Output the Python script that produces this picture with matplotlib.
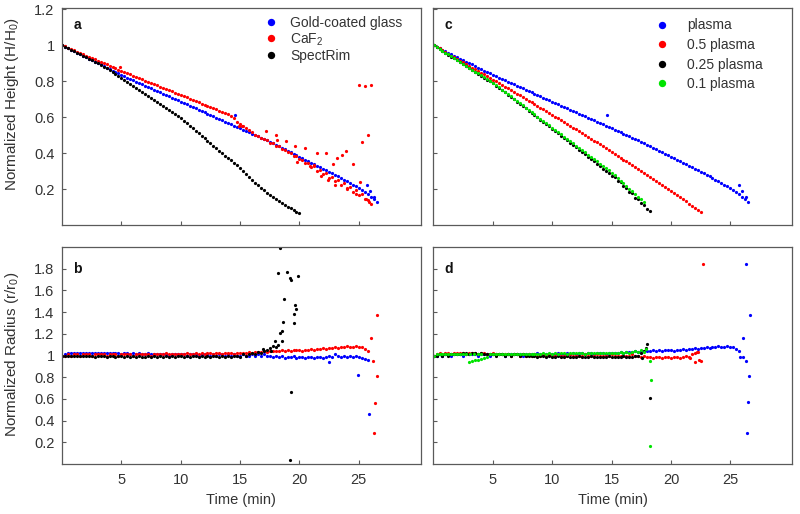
import numpy as np
import matplotlib
matplotlib.use("Agg")
import matplotlib.pyplot as plt
from matplotlib.ticker import FuncFormatter

plt.rcParams['font.family'] = ['Liberation Sans', 'DejaVu Sans']
plt.rcParams['mathtext.default'] = 'regular'

# ---------------- data (sampling interval in minutes) ----------------
DT = 0.25

# Normalized height, panel a / c
h_plasma = [1.000,0.992,0.983,0.975,0.967,0.958,0.950,0.942,0.933,0.925,0.917,0.908,0.900,0.892,0.883,0.875,0.867,0.858,0.850,0.842,0.833,
            0.826,0.818,0.811,0.804,0.796,0.789,0.781,0.774,0.767,0.759,0.752,0.744,0.737,0.729,0.722,0.715,0.707,0.700,0.692,0.685,
            0.678,0.670,0.663,0.656,0.648,0.641,0.633,0.626,0.618,0.611,0.604,0.596,0.589,0.581,0.574,0.567,0.559,0.552,0.544,0.537,
            0.530,0.522,0.515,0.507,0.500,0.492,0.485,0.477,0.470,0.462,
            0.454,0.446,0.437,0.429,0.421,0.413,0.405,0.396,0.388,0.380,
            0.372,0.363,0.355,0.347,0.338,0.330,0.322,0.313,0.305,0.297,0.288,0.280,
            0.271,0.261,0.252,0.242,0.233,0.224,0.214,0.205,0.195,
            0.183,0.170,0.158,0.145,0.130]
h_plasma_extra_t = [14.6, 25.7, 25.95, 26.3]
h_plasma_extra_v = [0.61, 0.225, 0.19, 0.155]

h_caf2 = [1.000,0.993,0.985,0.978,0.970,0.963,0.956,0.949,0.942,0.935,0.928,0.921,0.914,0.907,0.900,0.893,0.886,0.879,0.872,0.864,0.857,
          0.850,0.844,0.837,0.830,0.823,0.817,0.810,0.803,0.796,0.790,0.783,0.776,0.769,0.763,0.756,0.749,0.742,0.736,0.729,0.722,
          0.715,0.709,0.702,0.695,0.688,0.682,0.675,0.668,0.662,0.655,0.648,0.642,0.635,0.628,0.622,0.615,
          0.605,0.592,0.575,0.562,0.552,0.540,0.528,0.515,0.502,0.492,0.484,0.476,
          0.472,0.455,0.455,0.438,0.437,0.421,0.419,0.403,0.401,0.384,0.382,0.365,
          0.362,0.343,0.345,0.322,0.326,0.302,0.306,0.283,0.287,0.262,0.268,0.244,
          0.250,0.225,0.232,0.205,0.212,0.186,0.193,0.166,0.172,0.146,0.140,0.118]
h_caf2_extra_t = [4.9, 14.9, 15.2, 17.2, 18.0, 18.15, 18.85, 19.6, 19.8, 20.5, 20.9, 21.2, 21.5, 22.2, 22.8, 23.2,
                  23.6, 23.9, 24.5, 25.1, 25.0, 25.5, 26.0, 25.8, 25.3, 21.8, 22.4, 23.0, 24.0, 24.8, 25.6, 25.9]
h_caf2_extra_v = [0.876, 0.55, 0.55, 0.52, 0.50, 0.472, 0.467, 0.44, 0.35, 0.43, 0.33, 0.335, 0.40, 0.40, 0.34, 0.37,
                  0.39, 0.41, 0.34, 0.24, 0.78, 0.77, 0.78, 0.50, 0.46, 0.27, 0.25, 0.22, 0.20, 0.17, 0.145, 0.127]

h_spectrim = [1.000,0.992,0.983,0.975,0.967,0.958,0.950,0.942,0.933,0.925,0.917,0.908,0.898,0.889,0.880,0.871,0.862,0.851,0.840,0.829,0.818,
              0.807,0.796,0.784,0.773,0.761,0.750,0.739,0.727,0.716,0.704,0.693,0.682,0.671,0.660,0.649,0.637,0.626,0.615,0.604,0.593,
              0.579,0.565,0.551,0.537,0.523,0.509,0.496,0.482,0.468,0.454,0.440,0.427,0.413,0.400,0.386,0.372,0.359,0.345,0.332,0.318,
              0.301,0.284,0.267,0.250,0.236,0.222,0.207,0.193,0.179,0.167,0.156,0.145,0.134,0.122,0.111,0.100,0.092,0.083,0.074,0.065]

h_half = [1.000,0.990,0.981,0.971,0.962,0.952,0.942,0.933,0.923,0.913,0.904,0.894,0.885,0.875,0.865,0.856,0.846,0.837,0.827,0.817,0.808,
          0.798,0.788,0.779,0.769,0.759,0.750,0.740,0.730,0.720,0.711,0.701,0.691,0.682,0.672,0.662,0.653,0.643,0.633,0.623,0.614,
          0.603,0.593,0.583,0.572,0.562,0.552,0.541,0.531,0.521,0.510,0.500,0.490,0.479,0.469,0.459,0.448,0.438,0.428,0.417,0.407,
          0.396,0.386,0.375,0.364,0.354,0.343,0.332,0.321,0.311,0.300,0.289,0.278,0.267,0.256,0.245,0.234,0.224,0.213,0.202,0.191,
          0.179,0.167,0.155,0.143,0.131,0.119,0.107,0.096,0.084,0.074]

h_quarter = [1.000,0.989,0.979,0.968,0.958,0.947,0.936,0.926,0.915,0.904,0.894,0.883,0.872,0.862,0.851,0.840,0.830,0.819,0.808,0.798,0.787,
             0.774,0.762,0.749,0.737,0.724,0.712,0.699,0.686,0.674,0.661,0.649,0.636,0.623,0.611,0.598,0.586,0.573,0.560,0.548,0.535,
             0.522,0.509,0.496,0.483,0.470,0.457,0.444,0.431,0.418,0.405,0.392,0.379,0.366,0.353,0.340,0.327,0.314,0.301,0.288,0.275,
             0.268,0.244,0.238,0.214,0.206,0.183,0.176,0.152,0.144,0.121,0.113,0.090,0.079]

h_tenth = [1.000,0.990,0.979,0.969,0.958,0.948,0.937,0.927,0.916,0.906,0.895,0.885,0.874,0.864,0.853,0.843,0.832,0.822,0.811,0.801,0.790,
           0.778,0.765,0.753,0.740,0.728,0.715,0.703,0.690,0.678,0.665,0.653,0.640,0.628,0.615,0.603,0.590,0.578,0.565,0.553,0.540,
           0.528,0.515,0.503,0.490,0.478,0.465,0.453,0.440,0.428,0.415,0.403,0.390,0.378,0.365,0.353,0.340,0.328,0.315,0.303,0.290,
           0.276,0.261,0.246,0.232,0.217,0.202,0.188,0.173,0.158,0.144,0.129]

# Normalized radius, panel b / d
r_gold = [1.00,1.01,1.02,1.02,1.02,1.02,1.02,1.02,1.02,
          1.02,1.02,1.02,1.02,1.02,1.02,1.02,1.02,
          1.02,1.02,1.02,1.01,1.02,1.02,1.01,1.02,
          1.01,1.02,1.01,1.01,1.02,1.01,1.01,1.01,
          1.01,1.01,1.01,1.00,1.01,1.01,1.01,1.01,
          1.01,1.00,1.01,1.01,1.01,1.00,1.01,1.01,
          1.01,1.00,1.01,1.00,1.01,1.01,1.00,1.01,
          1.00,1.01,1.00,1.00,1.01,1.00,1.00,1.01,
          1.00,1.01,1.00,1.01,1.00,1.00,0.99,1.00,
          0.99,1.00,0.98,0.99,0.99,1.00,0.98,0.99,
          0.99,0.98,0.99,0.99,0.98,0.99,0.99,0.98,
          0.99,1.00,0.99,1.01,1.00,0.99,1.00,0.99,
          1.00,0.99,1.00,0.99,0.98,0.97,0.96]
r_gold_extra_t = [22.45, 24.9, 25.9]
r_gold_extra_v = [0.94, 0.82, 0.46]

# CaF2 radius (panel b) follows the same track as the plasma radius (panel d)
r_caf2 = [1.00,1.00,1.01,1.00,1.01,1.01,1.00,1.01,1.01,1.01,1.00,1.01,1.01,1.01,1.01,1.00,1.01,
          1.01,1.01,1.00,1.01,1.01,1.01,1.01,1.00,1.01,1.01,1.01,1.01,1.01,1.00,1.01,1.01,1.01,1.01,1.02,1.01,1.01,1.01,1.01,1.01,
          1.01,1.02,1.01,1.01,1.02,1.01,1.02,1.01,1.02,1.02,1.01,1.02,1.02,1.01,1.02,1.02,1.02,1.01,1.02,1.02,
          1.02,1.02,1.03,1.02,1.03,1.03,1.03,1.04,1.03,1.04,1.04,
          1.04,1.04,1.05,1.04,1.05,1.04,1.05,1.05,1.05,1.04,1.05,1.05,1.06,1.05,1.06,1.06,1.07,
          1.06,1.07,1.07,1.08,1.07,1.08,1.08,1.09,1.08,1.08,1.09,1.08,
          1.08,1.06,1.04]
r_caf2_extra_t = [26.0, 26.2, 26.5, 26.5, 26.35, 26.3]
r_caf2_extra_v = [1.16, 0.95, 1.37, 0.81, 0.56, 0.29]
r_plasma = r_caf2
r_plasma_extra_t = [26.3, 26.7, 26.1, 26.6, 26.5, 26.4, 25.85, 26.1, 26.3]
r_plasma_extra_v = [1.84, 1.37, 1.16, 0.81, 0.57, 0.29, 0.99, 0.99, 0.95]

r_spectrim = [1.00,1.00,1.00,1.00,1.00,1.00,1.00,1.00,1.00,
              1.00,1.00,0.99,1.00,1.00,1.00,0.99,1.00,
              1.00,0.99,1.00,1.00,0.99,1.00,0.99,1.00,
              0.99,1.00,0.99,0.99,1.00,0.99,1.00,0.99,
              1.00,0.99,1.00,0.99,1.00,0.99,1.00,1.00,
              0.99,1.00,0.99,1.00,1.00,0.99,1.00,0.99,
              1.00,0.99,1.00,1.00,0.99,1.00,0.99,1.00,
              0.99,1.00,1.00,0.99,1.01,1.00,1.01,1.02,
              1.01,1.03,1.02,1.04,1.05,1.07,1.09]
r_spectrim_extra_t = [17.9, 18.0, 18.2, 18.2, 18.4, 18.95, 19.2, 19.25, 19.85, 18.7, 19.6, 19.7, 19.5, 19.5,
                      18.65, 18.4, 18.55, 18.5, 19.3, 19.2, 17.6, 16.9]
r_spectrim_extra_v = [1.13, 1.08, 1.10, 1.76, 1.99, 1.77, 1.71, 1.70, 1.73, 1.52, 1.47, 1.43, 1.38, 1.30,
                      1.31, 1.21, 1.23, 1.13, 0.66, 0.04, 1.04, 1.06]

r_half = [1.00,1.01,1.02,1.01,1.02,1.02,1.01,1.02,1.02,
          1.02,1.02,1.01,1.02,1.02,1.02,1.01,1.02,
          1.02,1.01,1.01,1.02,1.01,1.01,1.01,1.01,
          1.01,1.00,1.01,1.01,1.00,1.01,1.00,1.01,
          1.00,1.01,1.00,1.00,1.01,1.00,1.01,1.00,
          1.00,1.01,1.00,1.00,1.00,1.01,1.00,1.00,
          1.00,1.00,1.01,1.00,1.00,1.00,1.01,1.00,
          1.00,1.00,1.00,1.01,1.00,1.00,1.00,1.00,
          1.00,1.00,1.01,1.00,1.00,0.99,1.00,0.99,
          0.99,0.98,0.99,0.99,0.98,0.99,0.99,0.98,
          0.99,0.99,0.98,0.99,1.00,0.99,1.01,1.02,
          1.03,0.95]
r_half_extra_t = [21.6, 22.0, 22.2, 22.4, 22.7]
r_half_extra_v = [0.98, 0.94, 1.03, 0.96, 1.84]

r_quarter = [1.00,1.00,1.01,1.00,1.01,1.00,1.01,1.01,1.01,
             1.01,1.02,1.02,1.01,1.02,1.02,1.01,1.02,
             1.01,1.01,1.01,1.01,1.00,1.01,1.01,1.00,
             1.01,1.00,1.01,1.01,1.00,1.01,1.00,1.00,
             1.00,1.00,0.99,1.00,1.00,0.99,1.00,0.99,
             0.99,1.00,0.99,0.99,1.00,0.99,0.99,0.99,
             1.00,0.99,0.99,0.99,1.00,0.99,0.99,0.99,
             0.99,0.99,1.00,0.99,0.99,0.99,0.99,1.00,
             0.99,0.99,0.99,1.00,1.00,1.02,1.04,1.11,
             0.61]
r_quarter_extra_t = [17.9, 17.6]
r_quarter_extra_v = [1.07, 0.98]

r_tenth = [1.00,1.01,1.01,1.01,1.01,1.01,1.01,1.01,1.01,
           1.01,1.01,1.01,0.94,0.95,0.955,0.96,0.97,
           0.975,0.99,1.01,1.01,1.01,1.01,1.01,1.01,
           1.01,1.01,1.01,1.01,1.01,1.01,1.01,1.01,
           1.01,1.01,1.01,1.01,1.02,1.01,1.02,1.01,
           1.02,1.01,1.02,1.02,1.01,1.02,1.02,1.02,
           1.02,1.02,1.01,1.02,1.02,1.02,1.02,1.02,
           1.02,1.02,1.02,1.02,1.02,1.02,1.03,1.02,
           1.03,1.02,1.03,1.04,1.03,1.05,1.03]
r_tenth_extra_t = [3.1, 3.4, 3.7, 4.0, 18.2, 18.3, 18.2, 17.9]
r_tenth_extra_v = [1.01, 1.01, 1.01, 1.01, 0.95, 0.77, 0.17, 1.06]

labels_ab = ['Gold-coated glass', 'CaF$_2$', 'SpectRim']
labels_cd = ['plasma', '0.5 plasma', '0.25 plasma', '0.1 plasma']
x_ticks = [5, 10, 15, 20, 25]
h_ticks = [0.2, 0.4, 0.6, 0.8, 1.0, 1.2]
r_ticks = [0.2, 0.4, 0.6, 0.8, 1.0, 1.2, 1.4, 1.6, 1.8]

# ---------------- styling ----------------
BLUE, RED, BLACK, GREEN = '#0000ff', '#ff0000', '#000000', '#00e400'
FRAME = '#5a5a5a'
TXT = '#333333'


def t_of(vals):
    return np.arange(len(vals)) * DT


def dots(ax, t, v, c, label=None):
    return ax.plot(t, v, ls='none', marker='o', ms=2.3, mew=0, color=c, label=label)[0]


fig = plt.figure(figsize=(8.0, 5.14), dpi=100)
W, H = 359 / 800, 217 / 514
axa = fig.add_axes([61.5 / 800, 1 - 225 / 514, W, H])
axc = fig.add_axes([433 / 800, 1 - 225 / 514, W, H])
axb = fig.add_axes([61.5 / 800, 1 - 464 / 514, W, H])
axd = fig.add_axes([433 / 800, 1 - 464 / 514, W, H])

fmt = FuncFormatter(lambda v, p: '%g' % round(v, 2))

for ax in (axa, axb, axc, axd):
    ax.set_xlim(-0.05, 30.2)
    ax.set_xticks(x_ticks)
    for s in ax.spines.values():
        s.set_color(FRAME)
        s.set_linewidth(0.9)
    ax.tick_params(direction='in', length=3, width=0.8, color=FRAME,
                   labelsize=10.5, labelcolor=TXT, pad=5)
    ax.tick_params(axis='x', pad=6.5)
    ax.yaxis.set_major_formatter(fmt)

for ax in (axa, axc):
    ax.set_ylim(0, 1.206)
    ax.set_yticks(h_ticks)
    ax.tick_params(axis='x', labelbottom=False)
for ax in (axb, axd):
    ax.set_ylim(0, 2.0)
    ax.set_yticks(r_ticks)
    ax.set_xlabel('Time (min)', fontsize=10.5, color=TXT, labelpad=4.5)
for ax in (axc, axd):
    ax.tick_params(axis='y', labelleft=False)

# panel a
la = [dots(axa, t_of(h_plasma), h_plasma, BLUE, labels_ab[0])]
dots(axa, h_plasma_extra_t, h_plasma_extra_v, BLUE)
la.append(dots(axa, t_of(h_caf2), h_caf2, RED, labels_ab[1]))
dots(axa, h_caf2_extra_t, h_caf2_extra_v, RED)
la.append(dots(axa, t_of(h_spectrim), h_spectrim, BLACK, labels_ab[2]))

# panel c
lc = [dots(axc, t_of(h_plasma), h_plasma, BLUE, labels_cd[0])]
dots(axc, h_plasma_extra_t, h_plasma_extra_v, BLUE)
lc.append(dots(axc, t_of(h_half), h_half, RED, labels_cd[1]))
lc.append(dots(axc, t_of(h_quarter), h_quarter, BLACK, labels_cd[2]))
lc.append(dots(axc, t_of(h_tenth), h_tenth, GREEN, labels_cd[3]))

# panel b
dots(axb, t_of(r_gold), r_gold, BLUE)
dots(axb, r_gold_extra_t, r_gold_extra_v, BLUE)
dots(axb, t_of(r_caf2), r_caf2, RED)
dots(axb, r_caf2_extra_t, r_caf2_extra_v, RED)
dots(axb, t_of(r_spectrim), r_spectrim, BLACK)
dots(axb, r_spectrim_extra_t, r_spectrim_extra_v, BLACK)

# panel d
dots(axd, t_of(r_plasma), r_plasma, BLUE)
dots(axd, r_plasma_extra_t, r_plasma_extra_v, BLUE)
dots(axd, t_of(r_half), r_half, RED)
dots(axd, r_half_extra_t, r_half_extra_v, RED)
dots(axd, t_of(r_quarter), r_quarter, BLACK)
dots(axd, r_quarter_extra_t, r_quarter_extra_v, BLACK)
dots(axd, t_of(r_tenth), r_tenth, GREEN)
dots(axd, r_tenth_extra_t, r_tenth_extra_v, GREEN)

# legends
fig.legend(handles=la, loc='upper left', bbox_to_anchor=(263.8 / 800, 1 - 15.5 / 514),
           bbox_transform=fig.transFigure, frameon=False, fontsize=10, markerscale=2.3,
           handlelength=1.0, handletextpad=0.89, borderpad=0, borderaxespad=0,
           labelspacing=0.12, labelcolor=TXT)
fig.legend(handles=lc, loc='upper left', bbox_to_anchor=(654.8 / 800, 1 - 18.5 / 514),
           bbox_transform=fig.transFigure, frameon=False, fontsize=10, markerscale=2.3,
           handlelength=1.0, handletextpad=1.32, borderpad=0, borderaxespad=0,
           labelspacing=0.4, labelcolor=TXT)

# panel letters
for ax, letter, yy in ((axa, 'a', 0.922), (axc, 'c', 0.922), (axb, 'b', 0.897), (axd, 'd', 0.897)):
    ax.text(0.044, yy, letter, transform=ax.transAxes, fontsize=10, fontweight='bold',
            color='#111111', ha='center', va='center')

axa.set_ylabel('Normalized Height (H/H$_0$)', fontsize=11, color=TXT)
axa.yaxis.set_label_coords(-0.113, 0.555)
axb.set_ylabel('Normalized Radius (r/r$_0$)', fontsize=11, color=TXT)
axb.yaxis.set_label_coords(-0.113, 0.507)

fig.savefig('out.png', dpi=100)
